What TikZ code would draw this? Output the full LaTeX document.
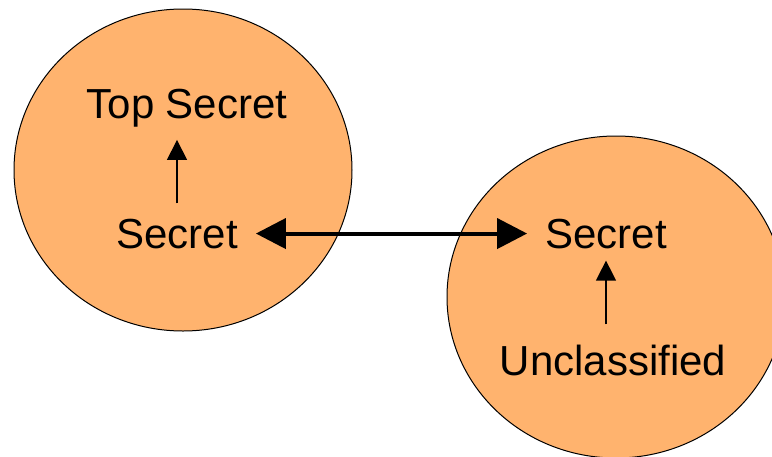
\documentclass[tikz,border=0pt]{standalone}
\usepackage{fontspec}
\usepackage{xcolor}
\setmainfont{Liberation Sans}
\usetikzlibrary{arrows.meta,positioning,shapes.geometric}
\definecolor{levelfill}{RGB}{255,179,110}
\tikzset{
  zone/.style={draw=black, line width=1pt, fill=levelfill, ellipse, minimum width=338pt, minimum height=322pt},
  level/.style={inner sep=0pt, anchor=base, font=\fontsize{42}{48}\selectfont},
  flow/.style={-{Triangle[length=20pt,width=20pt]}, line width=1.3pt},
  link/.style={{Triangle[length=30pt,width=30pt]}-{Triangle[length=30pt,width=30pt]}, line width=4pt}
}
\begin{document}
\begin{tikzpicture}[x=1pt,y=-1pt]
    \useasboundingbox (0,0) rectangle (772,456);
    \node[zone] (high) at (183,170) {};
    \node[zone] (low) at (616,297) {};
    \node[level] (top) at (187,118) {Top Secret};
    \node[level] (lsec) at (177,248) {Secret};
    \node[level] (rsec) at (606,248) {Secret};
    \node[level] (uncl) at (613,375) {Unclassified};
    \path[flow]
      (lsec.north) edge [shorten <=15pt, shorten >=13pt] (lsec.north |- top.south)
      (rsec.south |- uncl.north) edge [shorten <=20pt, shorten >=12pt] (rsec.south)
      ;
    \draw[link, shorten <=18pt, shorten >=18pt] (lsec) -- (rsec);
  \end{tikzpicture}
\end{document}
